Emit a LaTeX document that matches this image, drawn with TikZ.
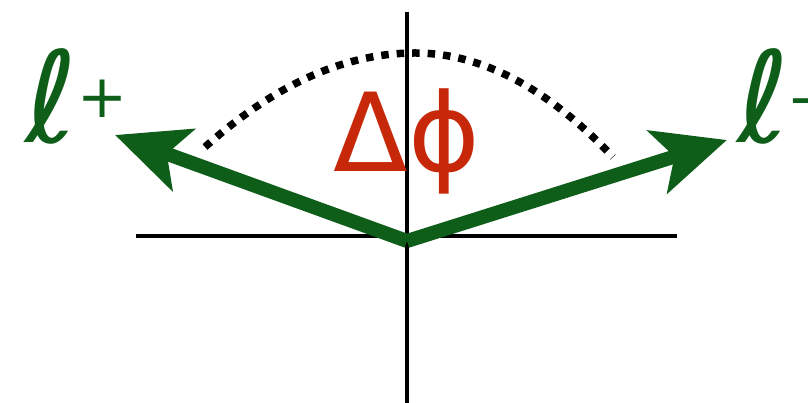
\documentclass[tikz,border=0pt]{standalone}
\usepackage{fontspec}
\setmainfont{DejaVu Sans}
\usetikzlibrary{arrows.meta}
\definecolor{leaf}{HTML}{0E5E1A}
\definecolor{brick}{HTML}{C8280A}

\begin{document}
\begin{tikzpicture}
        \useasboundingbox (0,0) rectangle (16.16,8.06);
        % axes
        \draw[line width=2.3pt] (2.72,3.34) -- (13.54,3.34);
        \draw[line width=2.3pt] (8.14,0) -- (8.14,7.82);
        % angle
        \draw[line width=0.15cm, dash pattern=on 0.15cm off 0.16cm]
        (4.10,5.12) .. controls (5.50,6.37) and (6.90,7.0) .. (8.30,7.0)
        .. controls (9.62,7.0) and (10.94,6.31) .. (12.26,4.92);
        \node[brick, font=\fontsize{62}{62}\selectfont, anchor=base] (dphi) at (8.14,4.62) {Δϕ};
        % vectors
        \coordinate (o) at (8.14,3.24);
        \coordinate (lp) at (2.30,5.36);
        \coordinate (lm) at (14.54,5.26);
        \draw[leaf, line width=0.28cm, -{Stealth[length=1.45cm, width=1.3cm, inset=0.35cm]}] (o) -- (lp);
        \draw[leaf, line width=0.28cm, -{Stealth[length=1.45cm, width=1.3cm, inset=0.35cm]}] (o) -- (lm);
        \node[leaf, font=\fontsize{72}{72}\selectfont, anchor=base west, inner sep=0pt] (plus) at (0.5,5.2) {ℓ\raisebox{0.2em}{\fontsize{34}{34}\selectfont +}};
        \node[leaf, font=\fontsize{72}{72}\selectfont, anchor=base west, inner sep=0pt] (minus) at (14.75,5.2) {ℓ\raisebox{0.2em}{\fontsize{34}{34}\selectfont -}};
      \end{tikzpicture}
\end{document}
